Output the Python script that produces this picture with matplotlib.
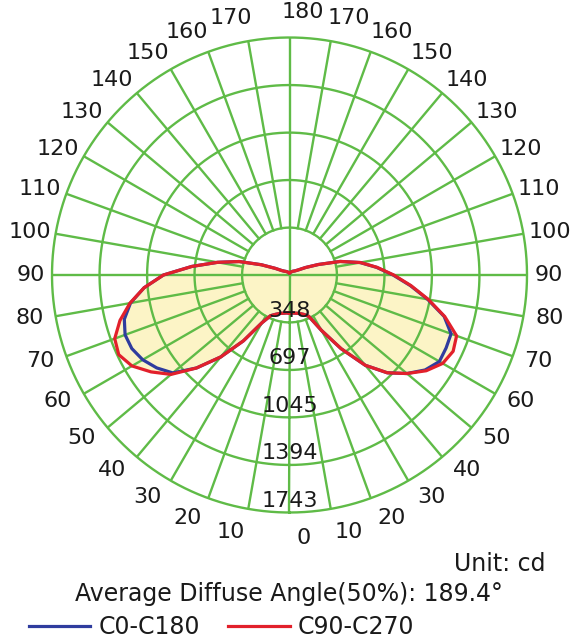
import numpy as np
import matplotlib.pyplot as plt

# gamma angle (deg) and luminous intensity (cd) for the four half planes
gamma = np.arange(0, 181, 5)
c0 = [279, 280, 285, 293, 308, 335, 470, 660, 865, 1015, 1125, 1215, 1270, 1268,
      1262, 1175, 1030, 890, 760, 642, 526, 384, 225, 130, 75, 55, 45, 40, 35, 30,
      27, 24, 21, 18, 15, 13, 12]
c180 = [279, 280, 285, 293, 308, 330, 405, 590, 785, 965, 1118, 1189, 1244, 1277,
        1284, 1255, 1185, 1071, 925, 720, 536, 382, 220, 115, 65, 50, 42, 37, 32, 28,
        25, 22, 19, 17, 15, 13, 12]
c90 = [279, 280, 285, 293, 308, 335, 470, 660, 865, 1015, 1125, 1225, 1298, 1325,
       1305, 1180, 1035, 895, 765, 645, 528, 385, 225, 130, 75, 55, 45, 40, 35, 30,
       27, 24, 21, 18, 15, 13, 12]
c270 = [279, 280, 285, 293, 308, 330, 405, 590, 785, 965, 1135, 1240, 1335, 1383,
        1365, 1288, 1189, 1071, 925, 720, 536, 382, 220, 115, 65, 50, 42, 37, 32, 28,
        25, 22, 19, 17, 15, 13, 12]

ring_values = [348, 697, 1045, 1394, 1743]
angle_ticks = np.arange(0, 181, 10)

grid_col = "#5fbb47"
fill_col = "#fcf4c6"
text_col = "#1a1a1a"
fs = 16

plt.rcParams["font.family"] = "DejaVu Sans"

fig = plt.figure(figsize=(5.74, 6.41), dpi=100)
ax = fig.add_axes([52 / 574, 128.5 / 641, 475 / 574, 475 / 641], projection="polar")
ax.set_theta_zero_location("S")
ax.set_theta_direction(1)
rmax = ring_values[-1]
ax.set_ylim(0, rmax)
ax.grid(False)
ax.set_xticks([])
ax.set_yticks([])
ax.spines["polar"].set_visible(False)
ax.patch.set_alpha(0)


def closed(right, left):
    th = np.concatenate([np.radians(gamma), np.radians(360 - gamma[::-1])])
    r = np.concatenate([right, np.asarray(left)[::-1]])
    return th, r


# yellow fill under the curves
for right, left in [(c0, c180), (c90, c270)]:
    th, r = closed(right, left)
    ax.fill(th, r, color=fill_col, lw=0, zorder=1)

# grid: rings, spokes from first ring, full axis lines
circ = np.linspace(0, 2 * np.pi, 400)
for v in ring_values:
    ax.plot(circ, np.full_like(circ, v), color=grid_col, lw=1.7, zorder=2, clip_on=False)
for a in range(10, 360, 10):
    if a % 90 == 0:
        continue
    ax.plot([np.radians(a)] * 2, [ring_values[0], rmax], color=grid_col, lw=1.7, zorder=2)
for a in [0, 90, 180, 270]:
    ax.plot([np.radians(a)] * 2, [0, rmax], color=grid_col, lw=1.7, zorder=2)

# curves
th, r = closed(c0, c180)
ax.plot(th, r, color="#2f3c9e", lw=2.3, zorder=3, label="C0-C180")
th, r = closed(c90, c270)
ax.plot(th, r, color="#e2202b", lw=2.3, zorder=4, label="C90-C270")

# ring labels
for v in ring_values:
    ax.text(0, v - 0.05 * rmax, str(v), ha="center", va="center", fontsize=fs,
            color=text_col, zorder=5)

# angle labels on both sides
for a in angle_ticks:
    shift = 3 * np.cos(np.radians(a))
    rad = 1.11 * rmax if a != 90 else 1.09 * rmax
    ax.text(np.radians(a + shift), rad, str(a), ha="center", va="center",
            fontsize=fs, color=text_col, clip_on=False)
    if 0 < a < 180:
        ax.text(np.radians(360 - a - shift), rad, str(a), ha="center", va="center",
                fontsize=fs, color=text_col, clip_on=False)

fig.text(545 / 574, 1 - 564 / 641, "Unit: cd", ha="right", va="center",
         fontsize=17, color=text_col)
fig.text(289 / 574, 1 - 594 / 641, "Average Diffuse Angle(50%): 189.4°",
         ha="center", va="center", fontsize=17, color=text_col)
leg = fig.legend(loc="center left", bbox_to_anchor=(0.05, 1 - 627 / 641), ncol=2,
                 frameon=False, prop={"size": 17}, handlelength=2.6, handletextpad=0.35,
                 columnspacing=1.2, borderaxespad=0, borderpad=0)
for t in leg.get_texts():
    t.set_color(text_col)

fig.savefig("out.png", dpi=100, facecolor="white")
